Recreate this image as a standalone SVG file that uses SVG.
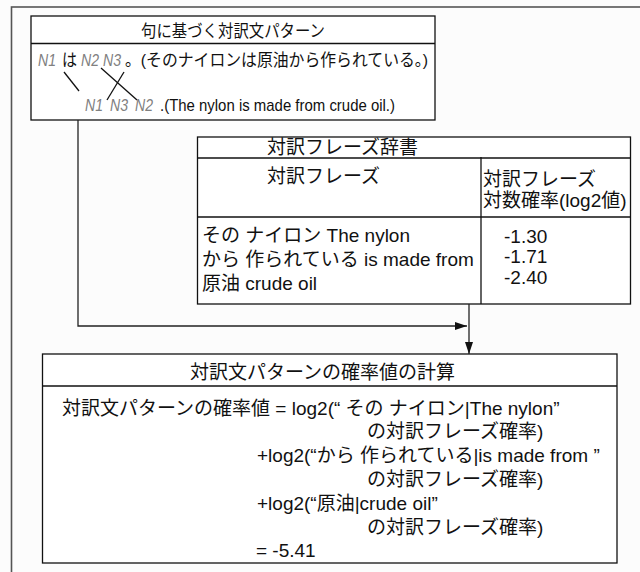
<svg xmlns="http://www.w3.org/2000/svg" width="640" height="572" viewBox="0 0 640 572">
<defs>
<style>
text{font-family:"Liberation Sans","Noto Sans CJK JP",sans-serif;fill:#111}
.s{font-size:17px}
.t{font-size:17px}
.m{font-size:19px}
.g{fill:#808080;font-style:italic}
.box{fill:#fff;stroke:#111;stroke-width:1.3}
.ln{stroke:#111;stroke-width:1.3;fill:none}
.cn{stroke:#222;stroke-width:1.3;fill:none}
</style>
<marker id="ah" viewBox="0 0 12 8" refX="12" refY="4" markerWidth="12" markerHeight="8" markerUnits="userSpaceOnUse" orient="auto">
<path d="M0,0 L12,4 L0,8 z" fill="#111"/>
</marker>
</defs>
<rect x="0" y="0" width="640" height="572" fill="#fcfcfc"/>
<rect x="11.5" y="7" width="640" height="580" fill="none" stroke="#555" stroke-width="1.6"/>

<g id="pattern">
<rect class="box" x="31" y="16" width="404" height="104"/>
<line class="ln" x1="31" y1="43.5" x2="435" y2="43.5"/>
<text class="t" x="141" y="37" textLength="184" lengthAdjust="spacingAndGlyphs">句に基づく対訳文パターン</text>
<text class="s g" x="38" y="66" textLength="18" lengthAdjust="spacingAndGlyphs">N1</text>
<text class="s" x="62" y="66" textLength="15" lengthAdjust="spacingAndGlyphs">は</text>
<text class="s g" x="81" y="66" textLength="18" lengthAdjust="spacingAndGlyphs">N2</text>
<text class="s g" x="103" y="66" textLength="18" lengthAdjust="spacingAndGlyphs">N3</text>
<text class="s" x="125" y="66" textLength="303" lengthAdjust="spacingAndGlyphs">。(そのナイロンは原油から作られている。)</text>
<line class="ln" x1="64" y1="72" x2="79" y2="91"/>
<line class="ln" x1="101" y1="68" x2="137" y2="100"/>
<line class="ln" x1="124" y1="72" x2="107" y2="100"/>
<text class="s g" x="85" y="111" textLength="18" lengthAdjust="spacingAndGlyphs">N1</text>
<text class="s g" x="110" y="111" textLength="18" lengthAdjust="spacingAndGlyphs">N3</text>
<text class="s g" x="135" y="111" textLength="18" lengthAdjust="spacingAndGlyphs">N2</text>
<text class="s" x="160" y="111" textLength="235" lengthAdjust="spacingAndGlyphs">.(The nylon is made from crude oil.)</text>
</g>

<g id="dictionary">
<rect class="box" x="197.5" y="137" width="433" height="167"/>
<line class="ln" x1="197.5" y1="158" x2="630.5" y2="158"/>
<line class="ln" x1="481" y1="157" x2="481" y2="304"/>
<line class="ln" x1="197.5" y1="217" x2="630.5" y2="217"/>
<text class="m" x="267" y="154">対訳フレーズ辞書</text>
<text class="m" x="267" y="183">対訳フレーズ</text>
<text class="m" x="483" y="186">対訳フレーズ</text>
<text class="m" x="483" y="207">対数確率(log2値)</text>
<text class="m" x="202" y="242">その ナイロン The nylon</text>
<text class="m" x="202" y="266">から 作られている is made from</text>
<text class="m" x="202" y="290">原油 crude oil</text>
<text class="m" x="504" y="243">-1.30</text>
<text class="m" x="504" y="263">-1.71</text>
<text class="m" x="504" y="284">-2.40</text>
</g>

<g id="calculation">
<rect class="box" x="42.5" y="354" width="574.5" height="209"/>
<line class="ln" x1="42.5" y1="386" x2="617" y2="386"/>
<text class="m" x="190" y="379">対訳文パターンの確率値の計算</text>
<text class="m" x="62" y="415">対訳文パターンの確率値 = log2(“ その ナイロン|The nylon”</text>
<text class="m" x="367" y="438">の対訳フレーズ確率)</text>
<text class="m" x="257" y="462">+log2(“から 作られている|is made from ”</text>
<text class="m" x="367" y="486">の対訳フレーズ確率)</text>
<text class="m" x="257" y="510">+log2(“原油|crude oil”</text>
<text class="m" x="367" y="534">の対訳フレーズ確率)</text>
<text class="m" x="256" y="557">= -5.41</text>
</g>

<g id="connectors">
<polyline class="cn" points="78,120 78,326 467,326" marker-end="url(#ah)"/>
<line class="cn" x1="469" y1="304" x2="469" y2="354" marker-end="url(#ah)"/>
</g>
</svg>
